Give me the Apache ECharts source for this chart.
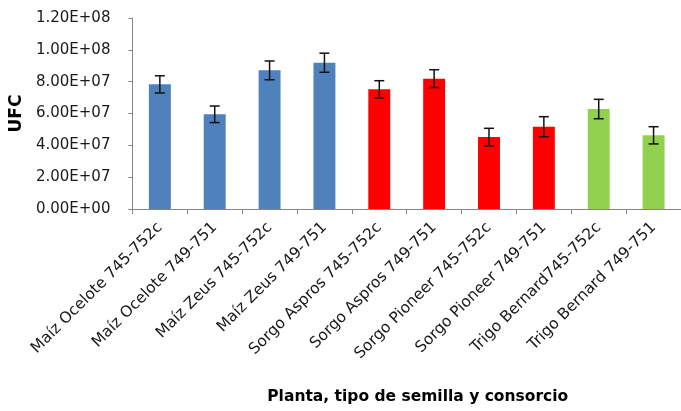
<!DOCTYPE html>
<html>
<head>
<meta charset="utf-8">
<script src="https://cdn.jsdelivr.net/npm/echarts@6/dist/echarts.min.js"></script>
<style>
  html, body { margin: 0; padding: 0; background: #fff; }
  #chart { width: 681px; height: 411px; }
</style>
</head>
<body>
<div id="chart"></div>
<script>
const categories = [
  'Maíz Ocelote 745-752c', 'Maíz Ocelote 749-751', 'Maíz Zeus 745-752c', 'Maíz Zeus 749-751',
  'Sorgo Aspros 745-752c', 'Sorgo Aspros 749-751', 'Sorgo Pioneer 745-752c', 'Sorgo Pioneer 749-751',
  'Trigo Bernard745-752c', 'Trigo Bernard 749-751'
];
const values = [7.83e7, 5.95e7, 8.71e7, 9.19e7, 7.52e7, 8.19e7, 4.52e7, 5.17e7, 6.28e7, 4.63e7];
const errors = [5.4e6, 5.2e6, 5.9e6, 6.0e6, 5.4e6, 5.6e6, 5.5e6, 6.3e6, 6.1e6, 5.4e6];
const barColors = ['#4F81BD', '#4F81BD', '#4F81BD', '#4F81BD', '#FF0000', '#FF0000', '#FF0000', '#FF0000', '#92D050', '#92D050'];

const chart = echarts.init(document.getElementById('chart'));

const option = {
  animation: false,
  textStyle: { fontFamily: 'DejaVu Sans' },
  grid: { left: 132, right: -10, top: 18, bottom: 202 },
  xAxis: {
    type: 'category',
    data: categories,
    name: 'Planta, tipo de semilla y consorcio',
    nameLocation: 'middle',
    nameGap: 180,
    nameTextStyle: { fontSize: 15.5, fontWeight: 'bold', color: '#000', padding: [0, 0, 0, 22] },
    axisLine: { lineStyle: { color: '#868686', width: 1 } },
    axisTick: { show: true, length: 5, lineStyle: { color: '#868686' } },
    axisLabel: { rotate: 45, interval: 0, fontSize: 15.5, color: '#1a1a1a', margin: 16 }
  },
  yAxis: {
    type: 'value',
    min: 0,
    max: 1.2e8,
    interval: 2e7,
    name: 'UFC',
    nameLocation: 'middle',
    nameGap: 104,
    nameTextStyle: { fontSize: 17, fontWeight: 'bold', color: '#000' },
    splitLine: { show: false },
    axisLine: { show: true, lineStyle: { color: '#868686', width: 1 } },
    axisTick: { show: true, inside: false, length: 4, lineStyle: { color: '#868686' } },
    axisLabel: {
      fontSize: 15,
      color: '#1a1a1a',
      margin: 22,
      formatter: v => {
        if (v === 0) return '0.00E+00';
        const exp = Math.floor(Math.log10(v));
        return (v / Math.pow(10, exp)).toFixed(2) + 'E+' + String(exp).padStart(2, '0');
      }
    }
  },
  series: [
    {
      type: 'bar',
      barWidth: '40%',
      data: values.map((v, i) => ({ value: v, itemStyle: { color: barColors[i] } }))
    },
    {
      type: 'custom',
      data: values.map((v, i) => [i, v - errors[i], v + errors[i]]),
      renderItem: (params, api) => {
        const lo = api.coord([api.value(0), api.value(1)]);
        const hi = api.coord([api.value(0), api.value(2)]);
        const half = 5;
        const style = { stroke: '#111', lineWidth: 1.5 };
        return {
          type: 'group',
          children: [
            { type: 'line', shape: { x1: hi[0], y1: hi[1], x2: lo[0], y2: lo[1] }, style },
            { type: 'line', shape: { x1: hi[0] - half, y1: hi[1], x2: hi[0] + half, y2: hi[1] }, style },
            { type: 'line', shape: { x1: lo[0] - half, y1: lo[1], x2: lo[0] + half, y2: lo[1] }, style }
          ]
        };
      },
      z: 10
    }
  ]
};

chart.setOption(option);
</script>
</body>
</html>
